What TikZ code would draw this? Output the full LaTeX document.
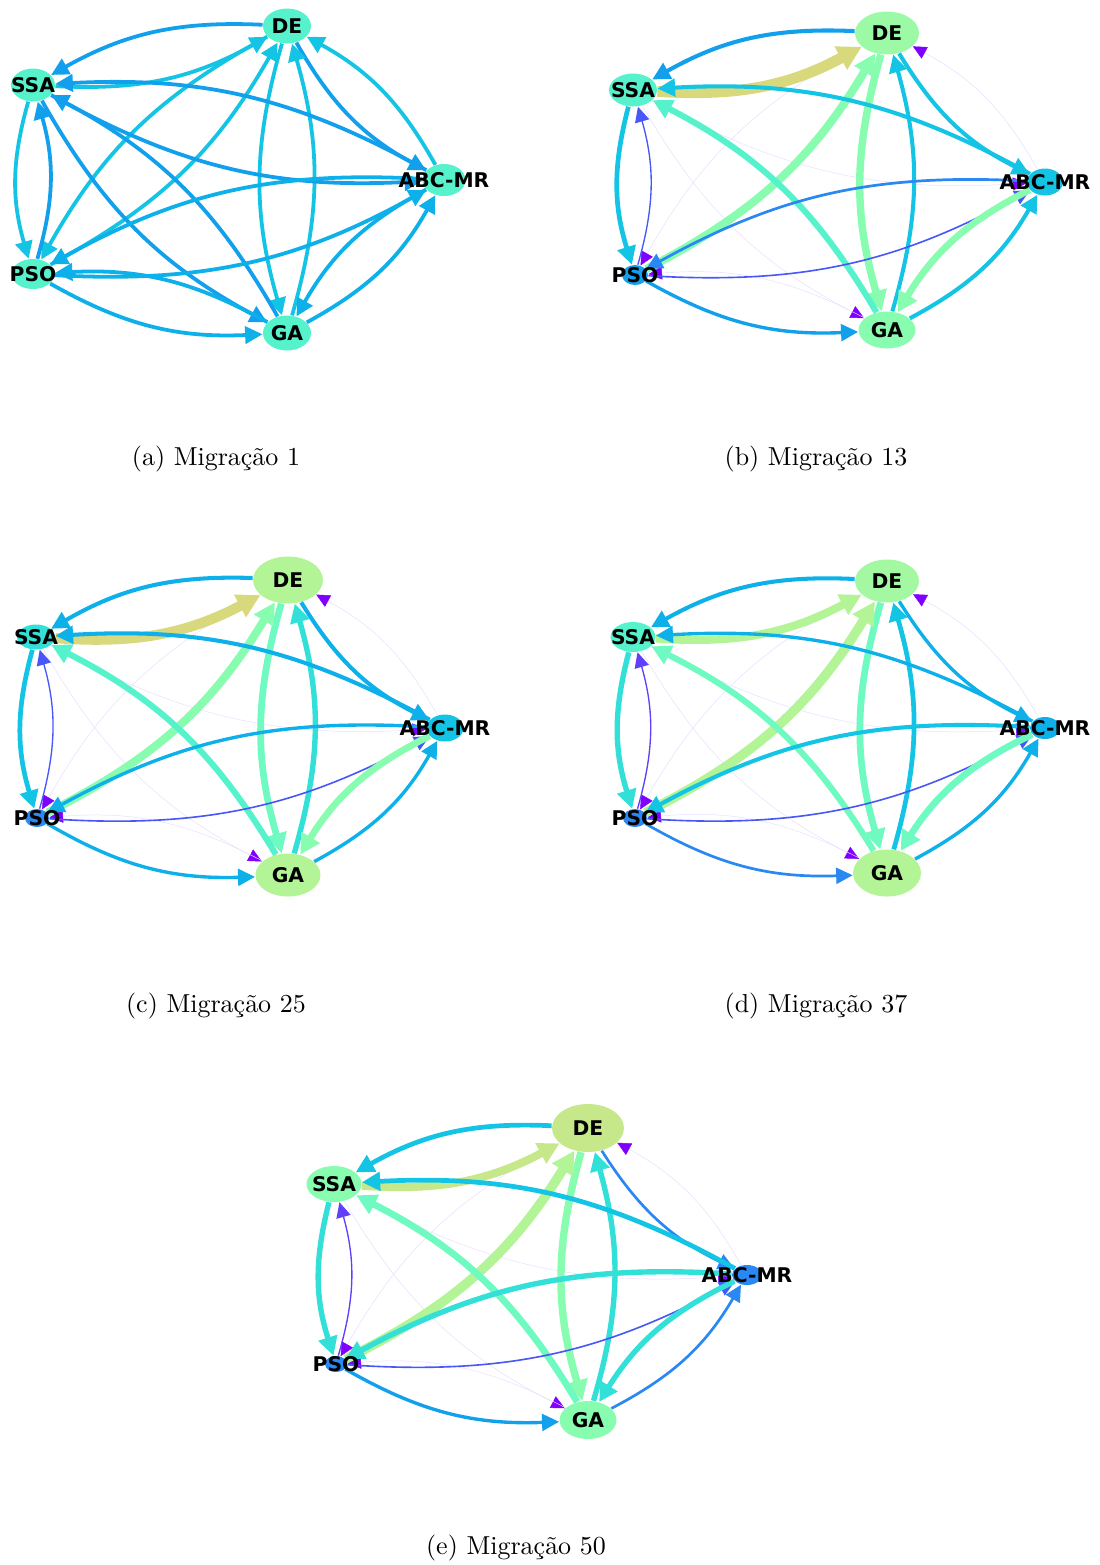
\documentclass[tikz,border=0pt]{standalone}
\usepackage{fontspec}
\newfontfamily\algfont{DejaVu Sans}
\usepackage{tikz}
\usetikzlibrary{shapes.geometric, arrows.meta}

\definecolor{migViolet}{HTML}{8000FF}
\definecolor{migFaint}{HTML}{E6DEFF}
\definecolor{cViolet}{HTML}{6040FA}
\definecolor{cIndigo}{HTML}{4858F8}
\definecolor{cBlue}{HTML}{2A88F2}
\definecolor{cAzure}{HTML}{12A0EC}
\definecolor{cSky}{HTML}{0EB0EA}
\definecolor{cCyan}{HTML}{14C4E4}
\definecolor{cTurq}{HTML}{33E0D8}
\definecolor{cAqua}{HTML}{55F2CC}
\definecolor{cMint}{HTML}{6EFAC0}
\definecolor{cGreen}{HTML}{88FDB0}
\definecolor{cLeaf}{HTML}{9CFAA6}
\definecolor{cPale}{HTML}{B2F496}
\definecolor{cLime}{HTML}{C6E88A}
\definecolor{cKhaki}{HTML}{D8D87C}
\newcommand{\px}{0.385pt}

\begin{document}
\begin{tikzpicture}[x=0.385pt, y=-0.385pt,
  alg/.style={ellipse, inner sep=0pt, draw=none},
  algname/.style={font=\algfont\bfseries\fontsize{7.8}{9}\selectfont,
    inner sep=0pt, text=black},
  flow/.style 2 args={draw=#1, line width=#2*1.35*\px, bend right=16,
    -{Triangle[length=5.4pt 0.9, width=5pt 1.1]}},
  faint/.style={draw=migFaint, line width=0.5*\px, bend right=16,
    -{Triangle[length=5.2pt, width=5pt, color=migViolet]}},
  subcap/.style={font=\normalsize, inner sep=0pt}]

  \useasboundingbox (0,0) rectangle (1100,1565);

  % (a) Migracao 1
  \foreach \n/\x/\y/\w/\h in {DE/287/26/48/35, SSA/33/85/44/33,
      ABC/444/180/43/32, PSO/33/274/43/30, GA/287/333/48/35}
    \node[alg, fill=cAqua, minimum width=\w*\px, minimum height=\h*\px]
      (a-\n) at (\x,\y) {};
  \foreach \u/\v/\c in {DE/SSA/cAzure, SSA/DE/cCyan, DE/ABC/cAzure,
      ABC/DE/cCyan, DE/GA/cCyan, GA/DE/cCyan, DE/PSO/cCyan, PSO/DE/cCyan,
      SSA/ABC/cAzure, ABC/SSA/cAzure, SSA/PSO/cCyan, PSO/SSA/cAzure,
      SSA/GA/cAzure, GA/SSA/cAzure, ABC/PSO/cSky, PSO/ABC/cSky,
      ABC/GA/cSky, GA/ABC/cSky, PSO/GA/cSky, GA/PSO/cSky}
    \draw[flow={\c}{2.8}] (a-\u) to (a-\v);
  \node[subcap] (a-cap) at (216,459) {(a) Migração 1};

  % (b) Migracao 13
  \node[alg, fill=cLeaf, minimum width=64*\px, minimum height=43*\px] (b-DE) at (887,33) {};
  \node[alg, fill=cAqua, minimum width=48*\px, minimum height=33*\px] (b-SSA) at (633,90) {};
  \node[alg, fill=cCyan, minimum width=36*\px, minimum height=27*\px] (b-ABC) at (1045,182) {};
  \node[alg, fill=cAzure, minimum width=26*\px, minimum height=20*\px] (b-PSO) at (635,275) {};
  \node[alg, fill=cGreen, minimum width=57*\px, minimum height=37*\px] (b-GA) at (887,330) {};
  \foreach \u/\v in {ABC/DE, DE/PSO, SSA/ABC, SSA/GA, GA/PSO}
    \draw[faint] (b-\u) to (b-\v);
  \foreach \u/\v/\c/\w in {DE/SSA/cAzure/3, SSA/DE/cKhaki/8, DE/ABC/cCyan/3,
      GA/DE/cCyan/3, DE/GA/cGreen/5.5, PSO/DE/cGreen/6, ABC/SSA/cCyan/3,
      SSA/PSO/cCyan/3.5, PSO/SSA/cIndigo/1, GA/SSA/cAqua/4.5,
      ABC/PSO/cBlue/2, PSO/ABC/cIndigo/1.2, ABC/GA/cGreen/5,
      GA/ABC/cCyan/3, PSO/GA/cAzure/2.5}
    \draw[flow={\c}{\w}] (b-\u) to (b-\v);
  \node[subcap] (b-cap) at (816,459) {(b) Migração 13};

  % (c) Migracao 25
  \node[alg, fill=cPale, minimum width=70*\px, minimum height=47*\px] (c-DE) at (288,580) {};
  \node[alg, fill=cTurq, minimum width=38*\px, minimum height=25*\px] (c-SSA) at (36,637) {};
  \node[alg, fill=cCyan, minimum width=37*\px, minimum height=27*\px] (c-ABC) at (445,728) {};
  \node[alg, fill=cBlue, minimum width=24*\px, minimum height=18*\px] (c-PSO) at (37,818) {};
  \node[alg, fill=cPale, minimum width=65*\px, minimum height=43*\px] (c-GA) at (288,875) {};
  \foreach \u/\v in {ABC/DE, DE/PSO, SSA/ABC, SSA/GA, GA/PSO}
    \draw[faint] (c-\u) to (c-\v);
  \foreach \u/\v/\c/\w in {DE/SSA/cSky/3, SSA/DE/cKhaki/7.5, DE/ABC/cSky/3,
      GA/DE/cTurq/4, DE/GA/cMint/5, PSO/DE/cGreen/6, ABC/SSA/cSky/3,
      SSA/PSO/cCyan/3.5, PSO/SSA/cIndigo/1, GA/SSA/cAqua/4.5,
      ABC/PSO/cSky/2.5, PSO/ABC/cIndigo/1.2, ABC/GA/cGreen/5,
      GA/ABC/cSky/2.5, PSO/GA/cSky/2.5}
    \draw[flow={\c}{\w}] (c-\u) to (c-\v);
  \node[subcap] (c-cap) at (216,1006) {(c) Migração 25};

  % (d) Migracao 37
  \node[alg, fill=cLeaf!70!cPale, minimum width=64*\px, minimum height=43*\px] (d-DE) at (887,581) {};
  \node[alg, fill=cAqua, minimum width=45*\px, minimum height=30*\px] (d-SSA) at (633,637) {};
  \node[alg, fill=cSky, minimum width=30*\px, minimum height=22*\px] (d-ABC) at (1045,728) {};
  \node[alg, fill=cBlue, minimum width=24*\px, minimum height=18*\px] (d-PSO) at (635,818) {};
  \node[alg, fill=cPale, minimum width=68*\px, minimum height=47*\px] (d-GA) at (887,873) {};
  \foreach \u/\v in {ABC/DE, DE/PSO, SSA/ABC, SSA/GA, GA/PSO}
    \draw[faint] (d-\u) to (d-\v);
  \foreach \u/\v/\c/\w in {DE/SSA/cSky/3, SSA/DE/cPale/6, DE/ABC/cSky/2.5,
      GA/DE/cCyan/3.5, DE/GA/cMint/5, PSO/DE/cPale/7, ABC/SSA/cSky/2.5,
      SSA/PSO/cTurq/4, PSO/SSA/cViolet/1, GA/SSA/cMint/4.5,
      ABC/PSO/cCyan/3, PSO/ABC/cIndigo/1.2, ABC/GA/cMint/5,
      GA/ABC/cSky/2.5, PSO/GA/cBlue/2}
    \draw[flow={\c}{\w}] (d-\u) to (d-\v);
  \node[subcap] (d-cap) at (816,1006) {(d) Migração 37};

  % (e) Migracao 50
  \node[alg, fill=cLime, minimum width=72*\px, minimum height=48*\px] (e-DE) at (588,1128) {};
  \node[alg, fill=cGreen, minimum width=55*\px, minimum height=36*\px] (e-SSA) at (334,1184) {};
  \node[alg, fill=cBlue, minimum width=30*\px, minimum height=20*\px] (e-ABC) at (747,1275) {};
  \node[alg, fill=cBlue, minimum width=22*\px, minimum height=16*\px] (e-PSO) at (336,1364) {};
  \node[alg, fill=cGreen, minimum width=57*\px, minimum height=38*\px] (e-GA) at (588,1420) {};
  \foreach \u/\v in {ABC/DE, DE/PSO, SSA/ABC, SSA/GA, GA/PSO}
    \draw[faint] (e-\u) to (e-\v);
  \foreach \u/\v/\c/\w in {DE/SSA/cCyan/3.5, SSA/DE/cLime/6, DE/ABC/cBlue/2,
      GA/DE/cTurq/4, DE/GA/cGreen/5.5, PSO/DE/cPale/7, ABC/SSA/cCyan/3.5,
      SSA/PSO/cTurq/4, PSO/SSA/cViolet/1, GA/SSA/cMint/5,
      ABC/PSO/cTurq/4, PSO/ABC/cIndigo/1.2, ABC/GA/cTurq/4,
      GA/ABC/cBlue/2, PSO/GA/cAzure/2.5}
    \draw[flow={\c}{\w}] (e-\u) to (e-\v);
  \node[subcap] (e-cap) at (516,1548) {(e) Migração 50};

  % names on top
  \foreach \p in {a,b,c,d,e}
    \foreach \n/\t in {DE/DE, SSA/SSA, ABC/ABC-MR, PSO/PSO, GA/GA}
      \node[algname] (\p-\n-t) at (\p-\n) {\t};
\end{tikzpicture}
\end{document}
